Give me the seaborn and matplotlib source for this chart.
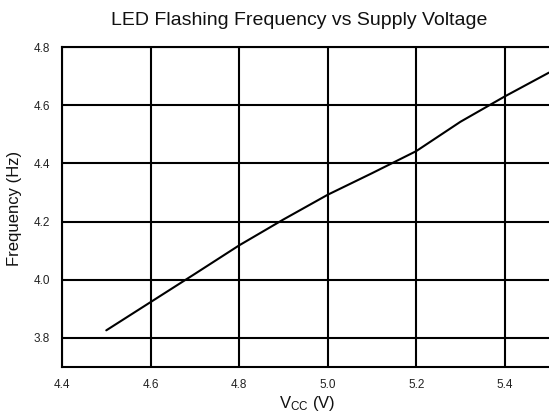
import matplotlib
matplotlib.use("Agg")
import matplotlib.pyplot as plt
import seaborn as sns
import pandas as pd

vcc = [4.5, 4.6, 4.7, 4.8, 4.9, 5.0, 5.1, 5.2, 5.3, 5.4, 5.5]
freq = [3.826, 3.923, 4.02, 4.118, 4.207, 4.292, 4.366, 4.442, 4.543, 4.630, 4.712]
xticks = [4.4, 4.6, 4.8, 5.0, 5.2, 5.4]
yticks = [3.8, 4.0, 4.2, 4.4, 4.6, 4.8]

df = pd.DataFrame({"vcc": vcc, "freq": freq})

sns.set_style("white")
plt.rcParams["font.family"] = ["Liberation Sans", "DejaVu Sans"]
plt.rcParams["mathtext.default"] = "regular"

fig = plt.figure(figsize=(5.49, 4.16), dpi=100)
ax = fig.add_axes([62/549, 49/416, 1 - 62/549, (367-47)/416])
sns.lineplot(data=df, x="vcc", y="freq", ax=ax, color="black", linewidth=1.5)

ax.set_xlim(4.4, 5.5)
ax.set_ylim(3.7, 4.8)
ax.set_xticks(xticks)
ax.set_yticks(yticks)
ax.set_xticklabels([f"{t:.1f}" for t in xticks])
ax.set_yticklabels([f"{t:.1f}" for t in yticks])
ax.grid(True, color="black", linewidth=1.5)
ax.set_axisbelow(True)
for s in ["left", "bottom", "top"]:
    ax.spines[s].set_color("black")
    ax.spines[s].set_linewidth(1.5)
ax.spines["right"].set_visible(False)
ax.tick_params(length=0, labelsize=8.5, colors="#222222")
ax.tick_params(axis="x", pad=9)
ax.tick_params(axis="y", pad=8.5)
ax.set_xlabel("V$_{CC}$ (V)", fontsize=12, color="#111111")
ax.set_ylabel("Frequency (Hz)", fontsize=12, color="#111111")
ax.xaxis.set_label_coords(0.503, -0.085)
ax.yaxis.set_label_coords(-0.082, 0.495)
fig.suptitle("LED Flashing Frequency vs Supply Voltage", fontsize=14,
             x=299/549, y=1 - 25/416, va="baseline", color="#111111")

fig.savefig("out.png", dpi=100)
